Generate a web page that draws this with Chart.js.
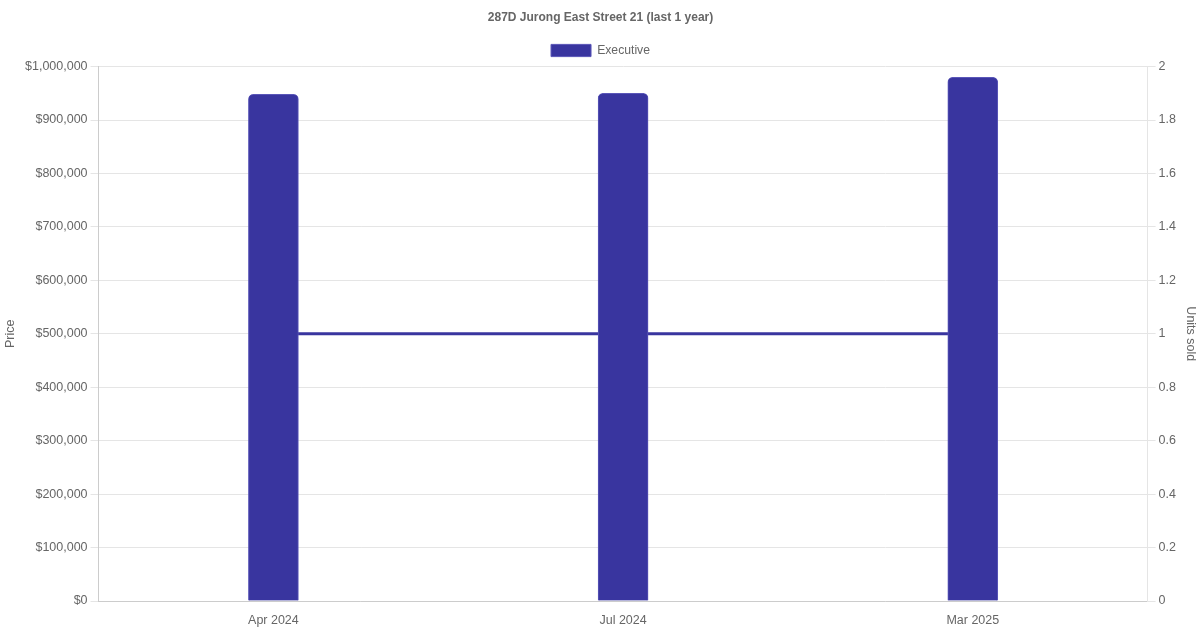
<!DOCTYPE html>
<html>
<head>
<meta charset="utf-8">
<script src="https://cdn.jsdelivr.net/npm/chart.js@4/dist/chart.umd.min.js"></script>
<style>
  html, body { margin: 0; padding: 0; background: #fff; }
  #wrap { width: 1200px; height: 630px; }
</style>
</head>
<body>
<div id="wrap"><canvas id="chart"></canvas></div>
<script>
// values
var months = ['Apr 2024', 'Jul 2024', 'Mar 2025'];
var prices = [948000, 950000, 980000];
var unitsSold = [1, 1, 1];

var barColor = '#39359f';

Chart.defaults.font.family = "'Liberation Sans', Arial, sans-serif";
Chart.defaults.font.size = 12;
Chart.defaults.color = '#666';

var tickFont = { size: 12.5 };

var chart = new Chart(document.getElementById('chart'), {
	type: 'bar',
	data: {
		labels: months,
		datasets: [
			{
				type: 'bar',
				label: 'Executive',
				data: prices,
				yAxisID: 'y',
				backgroundColor: barColor,
				borderColor: '#5a56b8',
				borderWidth: 1,
				borderRadius: 5,
				borderSkipped: 'bottom',
				barThickness: 50,
				order: 1
			},
			{
				type: 'line',
				label: 'Units sold',
				data: unitsSold,
				yAxisID: 'y1',
				borderColor: barColor,
				backgroundColor: barColor,
				borderWidth: 3,
				pointRadius: 0,
				fill: false,
				order: 2
			}
		]
	},
	options: {
		responsive: true,
		maintainAspectRatio: false,
		animation: false,
		layout: { padding: { bottom: -2, left: -1, right: -2 } },
		plugins: {
			title: {
				display: true,
				text: '287D Jurong East Street 21 (last 1 year)',
				font: { size: 12, weight: 'bold' },
				padding: { top: 10, bottom: 10 }
			},
			legend: {
				display: true,
				labels: {
					boxWidth: 40,
					font: { size: 12.2 },
					filter: function(item) { return item.text === 'Executive'; }
				}
			},
			tooltip: { enabled: false }
		},
		scales: {
			x: {
				grid: { display: false },
				border: { color: '#ccc' },
				ticks: { padding: 4, font: tickFont }
			},
			y: {
				position: 'left',
				min: 0,
				max: 1000000,
				ticks: {
					stepSize: 100000,
					font: tickFont,
					callback: function(v) { return '$' + v.toLocaleString('en-US'); }
				},
				grid: { color: '#e5e5e5' },
				border: { color: '#ccc' },
				title: { display: true, text: 'Price', font: tickFont }
			},
			y1: {
				position: 'right',
				min: 0,
				max: 2,
				ticks: {
					stepSize: 0.2,
					font: tickFont,
					callback: function(v) { return String(+v.toFixed(2)); }
				},
				grid: { drawOnChartArea: false },
				border: { color: '#e5e5e5' },
				title: { display: true, text: 'Units sold', font: tickFont }
			}
		}
	}
});
</script>
</body>
</html>
